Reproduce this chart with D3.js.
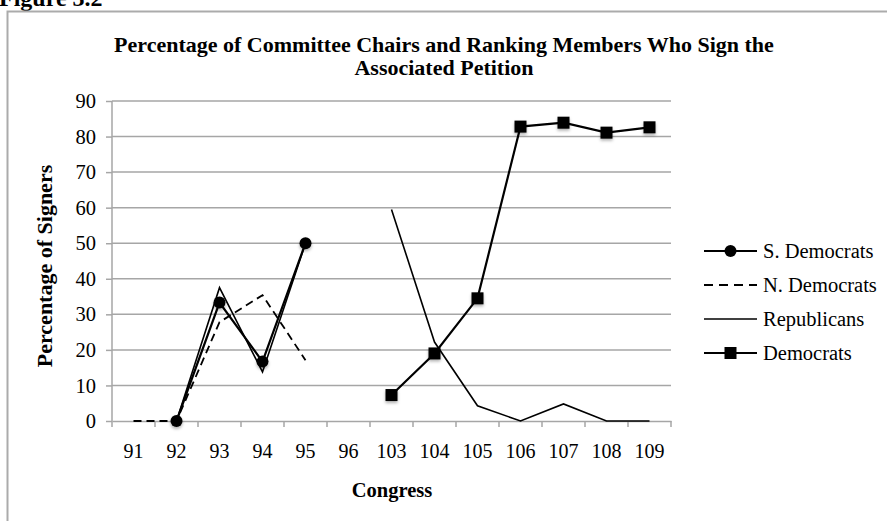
<!DOCTYPE html>
<html>
<head>
<meta charset="utf-8">
<script src="https://cdn.jsdelivr.net/npm/d3@7"></script>
<style>
  body { margin: 0; background: #fff; }
  text { font-family: "Liberation Serif", "Times New Roman", serif; fill: #000; }
</style>
</head>
<body>
<div id="chart"></div>
<script>
// ---- DATA --------------------------------------------------------
var congresses = ["91", "92", "93", "94", "95", "96", "103", "104", "105", "106", "107", "108", "109"];
var sDemocrats = [null, 0, 33.3, 16.7, 50, null, null, null, null, null, null, null, null];
var nDemocrats = [0, 0, 27.8, 35.4, 17.1, null, null, null, null, null, null, null, null];
var republicans = [null, 0, 37.5, 13.8, 50, null, 59.5, 22.2, 4.3, 0, 4.8, 0, 0];
var democrats = [null, null, null, null, null, null, 7.3, 19, 34.5, 82.8, 83.9, 81.1, 82.6];
var yTicks = [0, 10, 20, 30, 40, 50, 60, 70, 80, 90];
var seriesNames = ["S. Democrats", "N. Democrats", "Republicans", "Democrats"];

// ---- VARIABLES ---------------------------------------------------
var w = 887;
var h = 521;
var plotLeft = 112, plotRight = 671, plotTop = 101, plotBottom = 421;

var svg = d3.select("#chart")
  .append("svg")
  .attr("width", w)
  .attr("height", h);

var defs = svg.append("defs");
var shadow = defs.append("filter").attr("id", "shadow")
  .attr("x", "-50%").attr("y", "-50%").attr("width", "200%").attr("height", "200%");
shadow.append("feDropShadow")
  .attr("dx", 0).attr("dy", 2).attr("stdDeviation", 1.5)
  .attr("flood-color", "#000").attr("flood-opacity", 0.3);

// ---- SCALES ------------------------------------------------------
var xScale = d3.scaleBand()
  .domain(congresses)
  .range([plotLeft, plotRight])
  .padding(0);

var yScale = d3.scaleLinear()
  .domain([0, 90])
  .range([plotBottom, plotTop]);

function cx(i) { return xScale(congresses[i]) + xScale.bandwidth() / 2; }

// ---- FRAME AND TITLES --------------------------------------------
svg.append("text")
  .attr("x", -1)
  .attr("y", 6)
  .attr("font-size", "24px")
  .attr("font-weight", "bold")
  .text("Figure 3.2");

svg.append("rect")
  .attr("x", 7.5)
  .attr("y", 11.5)
  .attr("width", w + 10)
  .attr("height", h + 10)
  .attr("fill", "none")
  .attr("stroke", "#ababab")
  .attr("stroke-width", 2);

var title = svg.append("text")
  .attr("text-anchor", "middle")
  .attr("font-size", "22px")
  .attr("font-weight", "bold");
title.append("tspan").attr("x", 444).attr("y", 52)
  .text("Percentage of Committee Chairs and Ranking Members Who Sign the");
title.append("tspan").attr("x", 444).attr("y", 75)
  .text("Associated Petition");

svg.append("text")
  .attr("transform", "translate(52,266) rotate(-90)")
  .attr("text-anchor", "middle")
  .attr("font-size", "22px")
  .attr("font-weight", "bold")
  .text("Percentage of Signers");

svg.append("text")
  .attr("x", 392)
  .attr("y", 497)
  .attr("text-anchor", "middle")
  .attr("font-size", "20.5px")
  .attr("font-weight", "bold")
  .text("Congress");

// ---- GRID AND AXES -----------------------------------------------
svg.append("g")
  .selectAll("line")
  .data(yTicks.slice(1))
  .enter()
  .append("line")
  .attr("x1", plotLeft)
  .attr("x2", plotRight)
  .attr("y1", function(d) { return yScale(d); })
  .attr("y2", function(d) { return yScale(d); })
  .attr("stroke", "#a6a6a6")
  .attr("stroke-width", 1.5);

var yAxis = d3.axisLeft(yScale).tickValues(yTicks).tickSize(6).tickPadding(10);
var yG = svg.append("g")
  .attr("transform", "translate(" + plotLeft + ",0)")
  .call(yAxis);
yG.selectAll("text").attr("font-size", "20.5px").attr("font-family", null);
yG.selectAll("line, path").attr("stroke", "#a6a6a6").attr("stroke-width", 1.5);
yG.select(".domain").attr("d", "M0," + plotTop + "V" + plotBottom);

var xAxis = d3.axisBottom(xScale).tickSize(0).tickPadding(23);
var xG = svg.append("g")
  .attr("transform", "translate(0," + plotBottom + ")")
  .call(xAxis);
xG.select(".domain").attr("stroke", "#a6a6a6").attr("stroke-width", 1.5);
xG.selectAll("text").attr("font-size", "20px").attr("font-family", null);

// ticks at band edges
svg.append("g")
  .selectAll("line")
  .data(congresses.concat(["end"]))
  .enter()
  .append("line")
  .attr("x1", function(d) { return d === "end" ? plotRight : xScale(d); })
  .attr("x2", function(d) { return d === "end" ? plotRight : xScale(d); })
  .attr("y1", plotBottom)
  .attr("y2", plotBottom + 6)
  .attr("stroke", "#a6a6a6")
  .attr("stroke-width", 1.5);

// ---- LINES -------------------------------------------------------
var line = d3.line()
  .defined(function(d) { return d.v !== null; })
  .x(function(d) { return cx(d.i); })
  .y(function(d) { return yScale(d.v); });

function pts(arr) {
  return arr.map(function(v, i) { return { i: i, v: v }; });
}

svg.append("path")
  .attr("d", line(pts(republicans)))
  .attr("fill", "none")
  .attr("stroke", "#000")
  .attr("stroke-width", 1.6);

svg.append("path")
  .attr("d", line(pts(nDemocrats)))
  .attr("fill", "none")
  .attr("stroke", "#000")
  .attr("stroke-width", 1.8)
  .attr("stroke-dasharray", "8,5");

svg.append("path")
  .attr("d", line(pts(sDemocrats)))
  .attr("fill", "none")
  .attr("stroke", "#000")
  .attr("stroke-width", 2.2);

svg.append("path")
  .attr("d", line(pts(democrats)))
  .attr("fill", "none")
  .attr("stroke", "#000")
  .attr("stroke-width", 2.2);

svg.append("g")
  .selectAll("circle")
  .data(pts(sDemocrats).filter(function(d) { return d.v !== null; }))
  .enter()
  .append("circle")
  .attr("cx", function(d) { return cx(d.i); })
  .attr("cy", function(d) { return yScale(d.v); })
  .attr("r", 6)
  .attr("fill", "#000")
  .attr("filter", "url(#shadow)");

svg.append("g")
  .selectAll("rect")
  .data(pts(democrats).filter(function(d) { return d.v !== null; }))
  .enter()
  .append("rect")
  .attr("x", function(d) { return cx(d.i) - 6; })
  .attr("y", function(d) { return yScale(d.v) - 6; })
  .attr("width", 12)
  .attr("height", 12)
  .attr("fill", "#000")
  .attr("filter", "url(#shadow)");

// ---- LEGEND ------------------------------------------------------
var legend = svg.append("g")
  .selectAll("g")
  .data(seriesNames)
  .enter()
  .append("g")
  .attr("transform", function(d, i) { return "translate(704," + (251 + i * 34) + ")"; });

legend.append("line")
  .attr("x1", 0)
  .attr("x2", 53)
  .attr("stroke", "#000")
  .attr("stroke-width", function(d, i) { return i === 2 ? 1.6 : 2.2; })
  .attr("stroke-dasharray", function(d, i) { return i === 1 ? "9,6" : null; });

legend.filter(function(d, i) { return i === 0; })
  .append("circle")
  .attr("cx", 26.5)
  .attr("r", 6)
  .attr("fill", "#000");

legend.filter(function(d, i) { return i === 3; })
  .append("rect")
  .attr("x", 20.5)
  .attr("y", -6)
  .attr("width", 12)
  .attr("height", 12)
  .attr("fill", "#000");

legend.append("text")
  .attr("x", 59)
  .attr("dy", "0.35em")
  .attr("font-size", "20.5px")
  .text(function(d) { return d; });
</script>
</body>
</html>
